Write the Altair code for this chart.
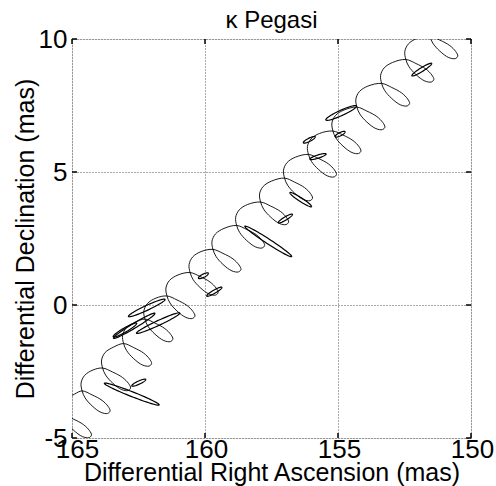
import altair as alt
import pandas as pd
import numpy as np

# ---- values (mas) ----
# points where the looping model path crosses itself, one per loop
cross_ra = [166.05, 165.32, 164.62, 163.85, 163.06, 162.26, 161.43, 160.56, 159.70,
            158.81, 157.91, 157.01, 156.11, 155.19, 154.29, 153.36, 152.45, 151.55, 150.65]
cross_dec = [-5.04, -4.14, -3.23, -2.37, -1.45, -0.53, 0.34, 1.22, 2.09,
             2.99, 3.87, 4.77, 5.66, 6.54, 7.44, 8.33, 9.23, 10.11, 11.02]
# traced shape of one loop relative to its crossing point
rise_dra = [0.038, -0.094, -0.414]
rise_ddec = [0.301, 0.583, 0.789]
lobe_dra = [-0.376, -0.752, -0.977, -1.053, -0.959, -0.714, -0.376, -0.113]
lobe_ddec = [-0.150, -0.357, -0.583, -0.752, -0.846, -0.808, -0.564, -0.263]

# measurement error ellipses: centre, semi-axes (mas), orientation (deg, as drawn)
ell_ra = [157.62, 156.98, 156.40, 155.75, 156.08, 154.92, 154.88, 151.85, 160.06,
          159.65, 162.19, 162.66, 161.76, 162.75, 162.49, 163.01]
ell_dec = [2.39, 3.25, 3.96, 5.58, 6.21, 6.42, 7.22, 8.85, 1.10,
           0.50, -0.11, -0.78, -0.68, -3.35, -2.92, -0.94]
ell_a = [1.05, 0.31, 0.485, 0.32, 0.25, 0.21, 0.635, 0.44, 0.21,
         0.33, 0.76, 0.91, 0.90, 1.11, 0.29, 0.51]
ell_b = [0.09, 0.06, 0.07, 0.06, 0.06, 0.06, 0.10, 0.07, 0.06,
         0.06, 0.09, 0.09, 0.09, 0.09, 0.06, 0.08]
ell_ang = [-33, 31, -33, 18, 27, 27, 24.5, 32, 27,
           30, 25, 31, 25, -21.5, 25, 30]

ra_ticks = [165, 160, 155, 150]
dec_ticks = [-5, 0, 5, 10]
title_text = ["κ Pegasi"]

# ---- assemble tables ----
rows = []
for k in range(len(cross_ra) - 1):
    rows.append((cross_ra[k], cross_dec[k]))
    for dx, dy in zip(rise_dra, rise_ddec):
        rows.append((cross_ra[k] + dx, cross_dec[k] + dy))
    rows.append((cross_ra[k + 1], cross_dec[k + 1]))
    for dx, dy in zip(lobe_dra, lobe_ddec):
        rows.append((cross_ra[k + 1] + dx, cross_dec[k + 1] + dy))
rows.append((cross_ra[-1], cross_dec[-1]))
path = pd.DataFrame(rows, columns=["ra", "dec"])
path["i"] = range(len(path))

t = np.linspace(0, 2 * np.pi, 73)
erows = []
for j in range(len(ell_ra)):
    ph = np.radians(ell_ang[j])
    u = ell_a[j] * np.cos(t) * np.cos(ph) - ell_b[j] * np.sin(t) * np.sin(ph)
    v = ell_a[j] * np.cos(t) * np.sin(ph) + ell_b[j] * np.sin(t) * np.cos(ph)
    for n in range(len(t)):
        erows.append((j, n, ell_ra[j] - u[n], ell_dec[j] + v[n]))
ell = pd.DataFrame(erows, columns=["e", "i", "ra", "dec"])

FONT = "Liberation Sans"
W = H = 399

x_enc = alt.X("ra:Q", scale=alt.Scale(domain=[150, 165], reverse=True, nice=False, zero=False),
              axis=alt.Axis(values=ra_ticks, title="Differential Right Ascension (mas)",
                            grid=True, gridDash=[1, 2], gridColor="#555", gridWidth=1,
                            ticks=False, tickSize=0, domain=False, labelFlush=False,
                            labelOverlap=False, labelFont=FONT, labelFontSize=26,
                            labelColor="black", labelBaseline="alphabetic", labelPadding=19.5,
                            labelExpr="'' + datum.value",
                            labelOffset={"condition": {"test": "datum.value == 165", "value": 5},
                                         "value": 1},
                            titleFont=FONT, titleFontSize=25, titleFontWeight="normal",
                            titleColor="black", titleBaseline="alphabetic", titleY=42.5,
                            titleX=W / 2))
y_enc = alt.Y("dec:Q", scale=alt.Scale(domain=[-5, 10], nice=False, zero=False),
              axis=alt.Axis(values=dec_ticks, title="Differential Declination (mas)",
                            grid=True, gridDash=[1, 2], gridColor="#555", gridWidth=1,
                            ticks=False, tickSize=0, domain=False, labelFlush=False,
                            labelOverlap=False, labelFont=FONT, labelFontSize=26,
                            labelColor="black", labelPadding=5,
                            labelExpr="'' + datum.value",
                            titleFont=FONT, titleFontSize=25, titleFontWeight="normal",
                            titleColor="black", titleBaseline="alphabetic", titleX=-39,
                            titleY=H / 2))

curve = alt.Chart(path).mark_line(color="black", strokeWidth=0.9, interpolate="catmull-rom",
                                  clip=True).encode(x=x_enc, y=y_enc, order="i:Q")
ellipses = alt.Chart(ell).mark_line(color="black", strokeWidth=1.2, clip=True).encode(
    x=x_enc, y=y_enc, detail="e:N", order="i:Q")

tx = pd.DataFrame({"ra": ra_ticks})
ty = pd.DataFrame({"dec": dec_ticks})
tick_b = alt.Chart(tx).mark_rule(color="black", strokeWidth=1.5).encode(
    x=x_enc, y=alt.value(H), y2=alt.value(H - 5))
tick_t = alt.Chart(tx).mark_rule(color="black", strokeWidth=1.5).encode(
    x=x_enc, y=alt.value(0), y2=alt.value(5))
tick_l = alt.Chart(ty).mark_rule(color="black", strokeWidth=1.5).encode(
    y=y_enc, x=alt.value(0), x2=alt.value(5))
tick_r = alt.Chart(ty).mark_rule(color="black", strokeWidth=1.5).encode(
    y=y_enc, x=alt.value(W), x2=alt.value(W - 5))

title = alt.Chart(pd.DataFrame({"t": title_text})).mark_text(
    font=FONT, fontSize=24, color="black", baseline="alphabetic", align="center"
).encode(text="t:N", x=alt.value(W / 2), y=alt.value(-11))

chart = alt.layer(curve, ellipses, tick_b, tick_t, tick_l, tick_r, title).properties(
    width=W, height=H,
    autosize=alt.AutoSizeParams(type="none"),
    padding={"left": 72, "top": 39, "right": 25, "bottom": 48},
).configure_view(stroke="black", strokeWidth=1.9).configure(background="white")

chart.save("out.html", embed_options={"renderer": "svg", "actions": False})
